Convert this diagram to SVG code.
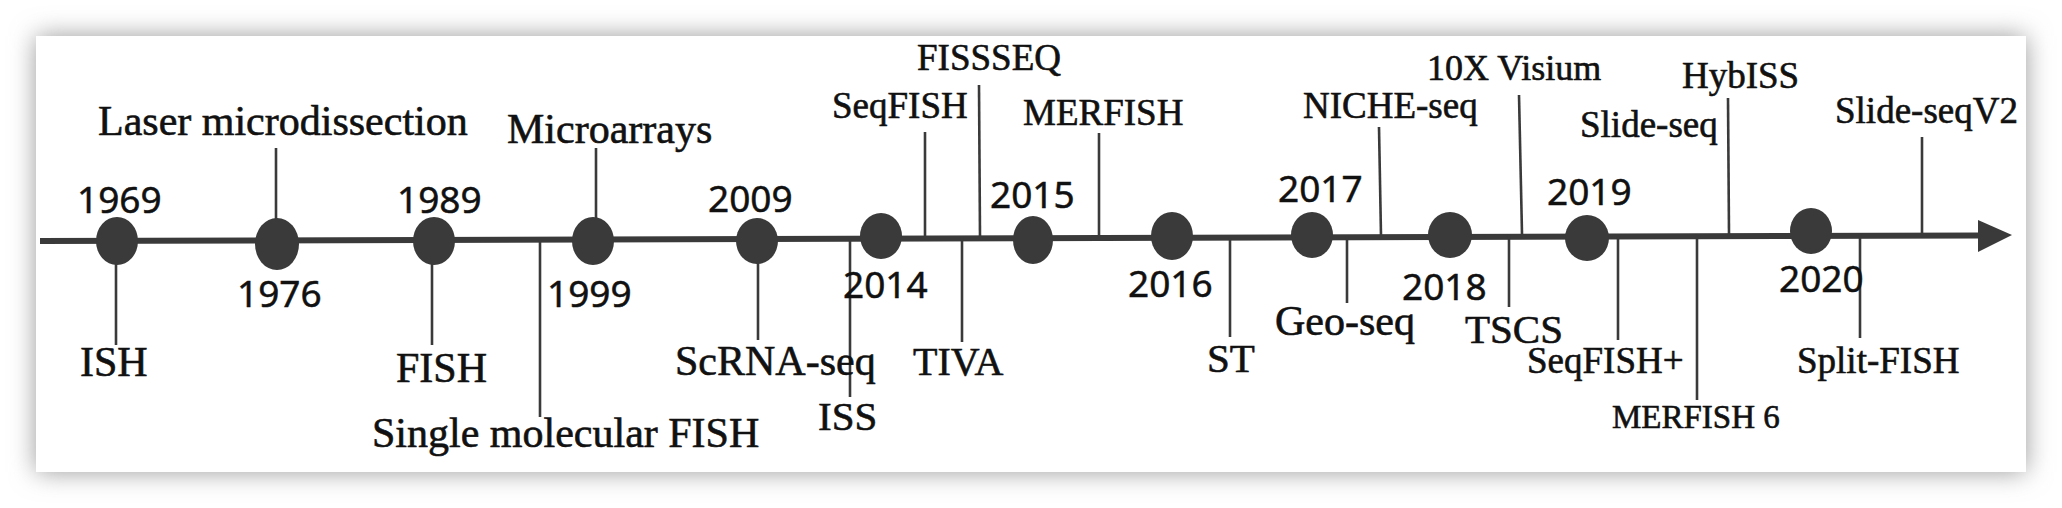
<svg xmlns="http://www.w3.org/2000/svg" width="2062" height="508" viewBox="0 0 2062 508">
<defs>
<filter id="shadow" x="-5%" y="-30%" width="110%" height="160%">
<feGaussianBlur stdDeviation="13"/>
</filter>
<style>
.yr{font-family:"Noto Sans","Open Sans",sans-serif;font-size:37px;fill:#111;stroke:#111;stroke-width:0.5}
.lb{font-family:"Liberation Serif","Times New Roman",serif;fill:#111;stroke:#111;stroke-width:0.6}
.stem{stroke:#3a3a3a;stroke-width:2.6;fill:none}
.dot{fill:#3a3a3a}
</style>
</defs>
<rect width="2062" height="508" fill="#fff"/>
<rect x="36" y="36" width="1990" height="436" fill="#9a9a9a" filter="url(#shadow)"/>
<rect x="36" y="36" width="1990" height="436" fill="#fff"/>

<g id="connectors">
<line x1="40" y1="241" x2="1982" y2="235.5" stroke="#3a3a3a" stroke-width="6"/>
<polygon points="1978,220 2012,235 1978,252" fill="#3a3a3a"/>
<line class="stem" x1="116" y1="262" x2="116" y2="345"/>
<line class="stem" x1="276" y1="148" x2="276" y2="220"/>
<line class="stem" x1="432" y1="262" x2="432" y2="345"/>
<line class="stem" x1="540" y1="240" x2="540" y2="417"/>
<line class="stem" x1="596" y1="148" x2="596" y2="220"/>
<line class="stem" x1="758" y1="262" x2="758" y2="340"/>
<line class="stem" x1="850" y1="239" x2="850" y2="397"/>
<line class="stem" x1="925" y1="132" x2="925" y2="237"/>
<line class="stem" x1="962" y1="237" x2="962" y2="342"/>
<line class="stem" x1="979" y1="85" x2="980" y2="237"/>
<line class="stem" x1="1099" y1="133" x2="1099" y2="237"/>
<line class="stem" x1="1230" y1="237" x2="1230" y2="337"/>
<line class="stem" x1="1347" y1="236" x2="1347" y2="303"/>
<line class="stem" x1="1379" y1="127" x2="1381" y2="236"/>
<line class="stem" x1="1519" y1="95" x2="1522" y2="234"/>
<line class="stem" x1="1509" y1="234" x2="1509" y2="307"/>
<line class="stem" x1="1618" y1="236" x2="1618" y2="340"/>
<line class="stem" x1="1697" y1="235" x2="1697" y2="400"/>
<line class="stem" x1="1728" y1="98" x2="1729" y2="234"/>
<line class="stem" x1="1860" y1="234" x2="1860" y2="338"/>
<line class="stem" x1="1922" y1="137" x2="1922" y2="234"/>
</g>

<g id="y1969"><ellipse class="dot" cx="117" cy="241" rx="21" ry="24"/><text class="yr" x="77" y="213">1969</text></g>
<g id="y1976"><ellipse class="dot" cx="277" cy="244" rx="22" ry="26"/><text class="yr" x="237" y="307">1976</text></g>
<g id="y1989"><ellipse class="dot" cx="434" cy="241" rx="21" ry="24"/><text class="yr" x="397" y="213">1989</text></g>
<g id="y1999"><ellipse class="dot" cx="593" cy="241" rx="21" ry="24"/><text class="yr" x="547" y="307">1999</text></g>
<g id="y2009"><ellipse class="dot" cx="757" cy="241" rx="21" ry="23"/><text class="yr" x="708" y="212">2009</text></g>
<g id="y2014"><ellipse class="dot" cx="881" cy="236" rx="21" ry="23"/><text class="yr" x="843" y="298">2014</text></g>
<g id="y2015"><ellipse class="dot" cx="1033" cy="240" rx="20" ry="24"/><text class="yr" x="990" y="208">2015</text></g>
<g id="y2016"><ellipse class="dot" cx="1172" cy="236" rx="21" ry="24"/><text class="yr" x="1128" y="297">2016</text></g>
<g id="y2017"><ellipse class="dot" cx="1312" cy="235" rx="21" ry="23"/><text class="yr" x="1278" y="202">2017</text></g>
<g id="y2018"><ellipse class="dot" cx="1450" cy="235" rx="22" ry="23"/><text class="yr" x="1402" y="300">2018</text></g>
<g id="y2019"><ellipse class="dot" cx="1587" cy="238" rx="22" ry="23"/><text class="yr" x="1547" y="205">2019</text></g>
<g id="y2020"><ellipse class="dot" cx="1811" cy="231" rx="21" ry="23"/><text class="yr" x="1779" y="292">2020</text></g>

<g id="labels">
<text class="lb" x="98" y="135" font-size="42">Laser microdissection</text>
<text class="lb" x="80" y="376" font-size="42">ISH</text>
<text class="lb" x="396" y="382" font-size="42">FISH</text>
<text class="lb" x="372" y="447" font-size="42">Single molecular FISH</text>
<text class="lb" x="507" y="143" font-size="42">Microarrays</text>
<text class="lb" x="675" y="375" font-size="42">ScRNA-seq</text>
<text class="lb" x="818" y="430" font-size="41">ISS</text>
<text class="lb" x="832" y="118" font-size="37">SeqFISH</text>
<text class="lb" x="913" y="375" font-size="40">TIVA</text>
<text class="lb" x="917" y="70" font-size="37">FISSSEQ</text>
<text class="lb" x="1023" y="125" font-size="37">MERFISH</text>
<text class="lb" x="1207" y="372" font-size="41">ST</text>
<text class="lb" x="1275" y="335" font-size="42">Geo-seq</text>
<text class="lb" x="1303" y="118" font-size="37">NICHE-seq</text>
<text class="lb" x="1427" y="80" font-size="36">10X Visium</text>
<text class="lb" x="1465" y="343" font-size="41">TSCS</text>
<text class="lb" x="1527" y="373" font-size="37">SeqFISH+</text>
<text class="lb" x="1612" y="428" font-size="33">MERFISH 6</text>
<text class="lb" x="1580" y="137" font-size="37">Slide-seq</text>
<text class="lb" x="1682" y="88" font-size="37">HybISS</text>
<text class="lb" x="1797" y="373" font-size="37">Split-FISH</text>
<text class="lb" x="1835" y="123" font-size="37">Slide-seqV2</text>
</g>
</svg>
